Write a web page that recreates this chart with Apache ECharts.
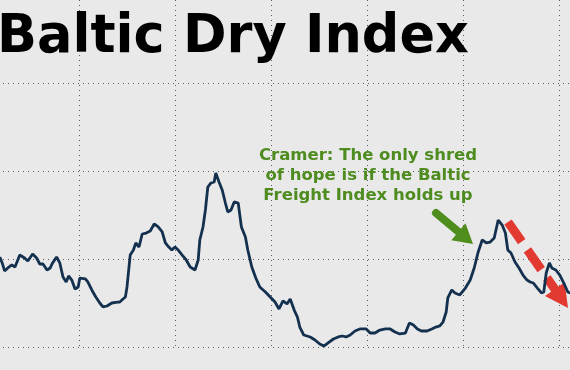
<!DOCTYPE html>
<html>
<head>
<meta charset="utf-8">
<script src="https://cdn.jsdelivr.net/npm/echarts@6/dist/echarts.min.js"></script>
<style>
html,body{margin:0;padding:0;background:#e9e9e9;}
#chart{width:570px;height:370px;}
</style>
</head>
<body>
<div id="chart"></div>
<script>
// Time in months (gridline every 12 months), index values (gridline every 1000)
const months = [-9.9,-9.6,-9.3,-8.9,-8.4,-8.0,-7.8,-7.4,-6.8,-6.4,-5.8,-5.3,-4.9,-4.5,-4.0,-3.6,-3.3,-2.8,-2.4,-2.0,
  -1.6,-1.3,-0.9,-0.5,-0.1,0.1,0.8,1.1,1.6,2.1,2.6,3.0,3.5,4.1,4.8,5.1,5.5,5.8,6.0,6.4,
  6.8,7.1,7.5,7.9,8.4,8.9,9.4,9.9,10.4,10.8,11.1,11.6,12.0,12.4,12.9,13.4,13.9,14.5,14.9,15.1,
  15.5,15.8,16.1,16.5,16.9,17.1,17.5,17.9,18.3,18.6,19.0,19.4,19.9,20.3,20.8,21.1,21.6,22.1,22.6,23.3,
  23.9,24.5,25.0,25.5,26.0,26.4,26.9,27.3,27.6,28.1,28.9,29.5,30.1,30.6,31.1,31.8,32.4,32.9,33.4,33.9,
  34.5,35.1,35.9,36.4,37.0,37.6,38.3,38.9,39.5,40.1,40.8,41.3,41.8,42.3,42.8,43.5,44.1,44.6,45.1,45.5,
  45.9,46.1,46.6,47.0,47.6,48.3,48.9,49.4,49.9,50.4,50.9,51.4,51.9,52.4,52.9,53.3,53.6,54.0,54.5,55.0,
  55.5,56.0,56.4,56.8,57.3,57.8,58.1,58.4,58.8,59.1,59.6,60.1,60.6,61.1,61.4];
const bdi = [1023,955,864,898,932,909,898,1045,1011,977,1057,1011,943,943,875,898,955,1023,955,795,
  739,807,761,659,682,784,773,739,648,568,500,455,466,500,511,511,545,568,682,1045,
  1102,1182,1136,1284,1295,1318,1398,1364,1307,1182,1148,1102,1136,1102,1045,989,909,875,989,1216,
  1364,1557,1818,1864,1875,1977,1875,1784,1636,1534,1557,1648,1636,1364,1250,1102,909,784,682,625,
  568,511,432,523,489,545,420,341,227,136,114,80,34,11,45,91,114,125,114,136,
  182,205,205,159,159,193,205,205,170,148,159,273,250,205,182,182,205,227,239,284,
  398,557,648,614,591,670,761,898,1080,1216,1182,1193,1239,1443,1386,1295,1102,1068,966,898,
  818,761,739,727,670,614,625,841,955,898,875,818,727,625,614];
const titleText = 'Baltic Dry Index';
const noteLines = ['Cramer: The only shred', 'of hope is if the Baltic', 'Freight Index holds up'];

const chart = echarts.init(document.getElementById('chart'), null, {renderer: 'canvas'});
const grid = {color: '#5c5c5c', width: 1, type: [1, 4]};
const series = months.map((m, i) => [m, bdi[i]]);

// Red dashed arrow geometry
const rTail = [508, 222], rTip = [568, 308];
const rdx = rTip[0] - rTail[0], rdy = rTip[1] - rTail[1];
const rl = Math.hypot(rdx, rdy), ru = [rdx / rl, rdy / rl], rp = [-ru[1], ru[0]];
const rBase = [rTip[0] - 23 * ru[0], rTip[1] - 23 * ru[1]];
// Green arrow geometry
const gTail = [436, 213], gTip = [473, 244];
const gdx = gTip[0] - gTail[0], gdy = gTip[1] - gTail[1];
const gl = Math.hypot(gdx, gdy), gu = [gdx / gl, gdy / gl], gp = [-gu[1], gu[0]];
const gBase = [gTip[0] - 19 * gu[0], gTip[1] - 19 * gu[1]];

chart.setOption({
  backgroundColor: '#e9e9e9',
  animation: false,
  grid: {left: -17, width: 672, top: -5, height: 352, show: false, outerBoundsMode: 'none', containLabel: false},
  xAxis: {type: 'value', min: -12, max: 72, interval: 12,
    axisLine: {show: false}, axisTick: {show: false}, axisLabel: {show: false},
    splitLine: {show: true, lineStyle: grid}},
  yAxis: {type: 'value', min: 0, max: 4000, interval: 1000,
    axisLine: {show: false}, axisTick: {show: false}, axisLabel: {show: false},
    splitLine: {show: true, lineStyle: grid}},
  series: [{type: 'line', data: series, showSymbol: false, z: 5, clip: false,
    lineStyle: {color: '#14304f', width: 2.8}}],
  graphic: [
    {type: 'text', z: 100, style: {text: titleText, x: -3, y: 38, verticalAlign: 'middle',
      font: 'bold 52.5px "DejaVu Sans"', fill: '#000'}},
    {type: 'text', z: 100, style: {text: noteLines.join('\n'), x: 368, y: 146, align: 'center',
      verticalAlign: 'top', lineHeight: 20, font: 'bold 16.5px "DejaVu Sans"', fill: '#4e8c1f'}},
    {type: 'line', z: 1, shape: {x1: gTail[0], y1: gTail[1], x2: gBase[0], y2: gBase[1]},
      style: {stroke: '#4f8d1c', lineWidth: 8, lineCap: 'round'}},
    {type: 'polygon', z: 1, shape: {points: [
      [gBase[0] + 11 * gp[0], gBase[1] + 11 * gp[1]], gTip, [gBase[0] - 11 * gp[0], gBase[1] - 11 * gp[1]]]},
      style: {fill: '#4f8d1c'}},
    {type: 'line', z: 1, shape: {x1: rTail[0], y1: rTail[1], x2: rBase[0] + ru[0], y2: rBase[1] + ru[1]},
      style: {stroke: '#e23a30', lineWidth: 9, lineDash: [24, 10], lineCap: 'butt'}},
    {type: 'polygon', z: 1, shape: {points: [
      [rBase[0] + 12 * rp[0], rBase[1] + 12 * rp[1]], rTip, [rBase[0] - 12 * rp[0], rBase[1] - 12 * rp[1]]]},
      style: {fill: '#e23a30'}}
  ]
});
</script>
</body>
</html>
